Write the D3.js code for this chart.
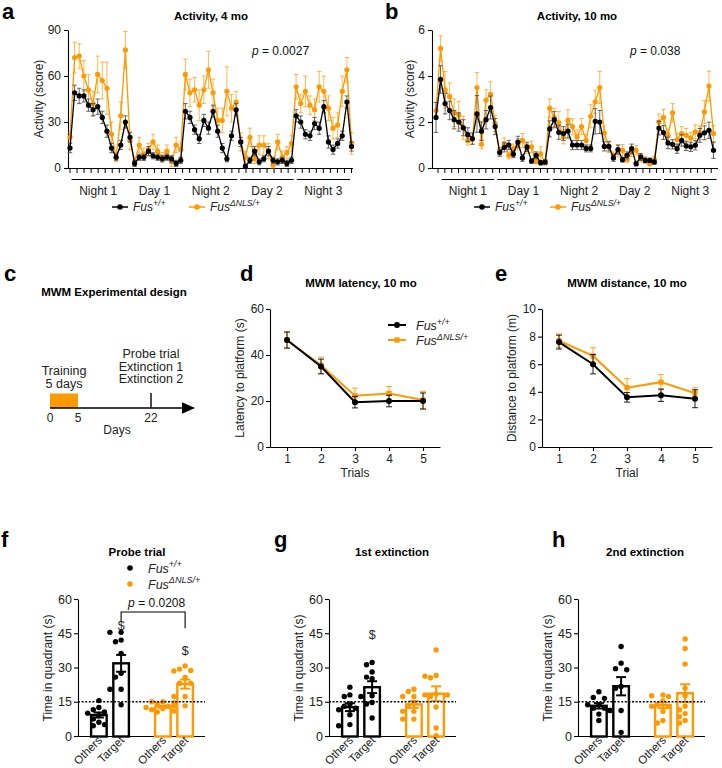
<!DOCTYPE html>
<html><head><meta charset="utf-8">
<script src="https://cdn.jsdelivr.net/npm/d3@7"></script>
<style>
body{margin:0;background:#fff}
text{font-family:"Liberation Sans",Arial,Helvetica,sans-serif}
</style>
</head><body>
<script>
// ---------------- DATA ----------------
const segments = ["Night 1","Day 1","Night 2","Day 2","Night 3"];
const genoBase = "Fus";
const genoSup = ["+/+", "\u0394NLS/+"];

// Panel a: activity at 4 months (hourly bins)
const act4WT = [13,49,47,47,41,38,40,33,24,13,7,15,30, 20,
  3,7,7,11,8,7,6,7,6,3,5,
  37,33,25,19,31,26,37,24,13,6,21,38,
  17,1,5,11,4,6,11,5,4,5,3,5,
  34,30,22,21,29,26,40,17,12,16,21,43,14];
const act4WTErr = [3,5,5,4,4,4,5,4,4,3,2,3,4, 3,
  2,2,2,3,2,2,2,2,2,2,2,
  5,4,3,3,4,4,4,4,3,2,3,4,
  3,1,2,3,2,2,3,2,2,2,2,2,
  4,4,3,3,4,4,4,4,3,3,3,4,3];
const act4KI = [20,72,73,60,51,42,61,57,52,22,7,34,77, 18,
  4,15,9,12,17,11,7,11,4,15,12,
  61,49,51,41,51,64,49,31,31,50,39,43,
  17,7,20,6,15,15,11,2,17,7,10,16,
  53,42,50,41,38,53,50,39,26,28,50,64,16];
const act4KIErr = [3,10,8,10,10,8,12,12,17,8,3,9,12, 6,
  3,5,4,4,5,4,3,4,3,5,5,
  10,9,8,10,9,12,9,8,8,16,9,7,
  6,4,6,3,6,6,5,2,5,4,4,5,
  8,6,10,6,7,10,10,8,7,8,10,8,7];

// Panel b: activity at 10 months
const act10WT = [2.2,3.85,2.8,2.5,2.1,2.0,1.75,1.45,1.28,2.35,1.6,2.1,2.63, 1.8,
  0.67,0.9,1.0,0.6,1.13,0.44,0.92,0.3,0.55,0.23,0.26,
  1.7,2.1,1.55,1.5,1.6,1.0,1.0,1.0,0.85,0.85,2.03,2.0,
  0.94,0.94,0.44,0.8,0.36,0.55,0.84,0.19,0.48,0.33,0.33,0.26,
  1.74,1.54,1.09,1.03,0.84,1.2,0.96,0.92,0.99,1.42,1.53,1.64,0.77];
const act10WTErr = [0.65,0.6,0.45,0.4,0.4,0.4,0.35,0.3,0.25,0.8,0.4,0.4,0.5, 0.35,
  0.15,0.2,0.2,0.15,0.25,0.15,0.2,0.1,0.15,0.1,0.1,
  0.35,0.35,0.3,0.3,0.3,0.2,0.2,0.2,0.15,0.15,0.55,0.5,
  0.2,0.2,0.15,0.2,0.1,0.15,0.2,0.1,0.15,0.1,0.1,0.1,
  0.3,0.3,0.25,0.2,0.2,0.25,0.2,0.2,0.2,0.3,0.3,0.35,0.35];
const act10KI = [2.5,5.2,3.4,3.1,2.4,2.3,1.75,1.2,1.24,3.5,1.03,2.95,3.2, 1.93,
  0.7,1.06,0.55,0.84,1.03,1.2,0.84,0.92,0.29,0.62,0.23,
  2.6,2.2,1.96,1.35,2.08,1.8,1.35,1.8,1.2,2.25,2.88,3.5,
  1.53,0.92,0.55,0.74,0.77,0.36,0.7,0.77,0.41,0.36,0.19,0.36,
  2.0,2.2,1.42,2.4,1.24,1.5,1.42,1.3,1.57,1.53,2.44,3.56,1.5];
const act10KIErr = [0.35,0.55,0.8,0.6,0.6,0.6,0.5,0.2,0.2,0.65,0.2,0.45,0.55, 0.35,
  0.2,0.25,0.15,0.2,0.25,0.3,0.2,0.25,0.1,0.3,0.1,
  0.4,0.4,0.5,0.3,0.45,0.35,0.3,0.35,0.25,0.5,0.5,0.7,
  0.3,0.25,0.15,0.25,0.25,0.1,0.2,0.2,0.15,0.15,0.1,0.15,
  0.35,0.35,0.25,0.4,0.25,0.3,0.3,0.25,0.3,0.3,0.5,0.65,0.35];

// Panel c: design timeline
const designDays = [0, 5, 22];
const trainingDays = [0, 5];
const probeDay = 22;
const probeLines = ["Probe trial","Extinction 1","Extinction 2"];
const trainingLines = ["Training","5 days"];

// Panels d, e
const trials = [1,2,3,4,5];
const latWT = [46.5,35,19.5,20,20];
const latWTErr = [3.5,3.2,2.5,2.5,3.5];
const latKI = [46.5,35.5,22.3,23.3,20.4];
const latKIErr = [3.5,3.5,3.3,3,3.8];
const distWT = [7.6,6.0,3.6,3.75,3.5];
const distWTErr = [0.5,0.7,0.35,0.45,0.65];
const distKI = [7.7,6.6,4.3,4.7,3.9];
const distKIErr = [0.5,0.6,0.65,0.55,0.4];

// Panels f, g, h: time in quadrant (s), individual animals
const quadrants = ["Others","Target"];
const probeWTOthers = [15.5,12.5,11.5,10.5,10,9,7.5,6,5,4.5];
const probeWTTarget = [45.4,45.4,41.3,42,36.2,27.5,25.8,20.5,20.5,13.7];
const probeKIOthers = [15,15,14.5,14,13,12.5,12,12,11.5,11,10.5];
const probeKITarget = [30.7,29.3,28.7,28.5,25.6,23.1,23.1,17.3,17.3,13.2,13.2];
const ext1WTOthers = [21.4,17.3,18,14,11.5,12.2,13,4.5,5,9.3];
const ext1WTTarget = [31.2,32.2,28,25.8,25.1,17.6,17.3,14.7,14,7.9];
const ext1KIOthers = [19.5,20.5,17.3,17.3,14.4,10.8,10.8,7.4,7.4,13];
const ext1KITarget = [37.7,26.5,26.2,25.5,18,18,18.4,12.7,3.5,0.1,17.3];
const ext2WTOthers = [19.4,16.5,16.9,13.7,13.7,12.2,12.2,11.2,9.6,6.8];
const ext2WTTarget = [39.2,31.9,29,29.5,21.7,20.9,11.2,11.2,1.6];
const ext2KIOthers = [18,17.6,17.3,15.4,13.7,13,10.8,6.8,5.7,13,17];
const ext2KITarget = [42.5,38.3,31.5,20.9,17.6,13,9.8,5.7,6.8,11.5,8.5];
const chanceLevel = 15;
const quadTicks = [0,15,30,45,60];

// ---------------- DRAWING ----------------
const ORANGE = "#ff9900";
const fmtInt = d3.format("d");
const svg = d3.select("body").append("svg").attr("width",722).attr("height",768);
svg.append("rect").attr("width",722).attr("height",768).attr("fill","#fff");

function styleAxis(g, fs) {
  g.select(".domain").attr("stroke","#000").attr("stroke-width",1.1);
  g.selectAll(".tick line").attr("stroke","#000").attr("stroke-width",1.1);
  g.selectAll(".tick text").attr("font-size",fs||12).attr("fill","#222")
    .attr("font-family",'"Liberation Sans",Arial,sans-serif');
}
function label(x, y, s, o) {
  o = o || {};
  return svg.append("text").attr("x",x).attr("y",y).text(s)
    .attr("font-size",o.size||12).attr("font-weight",o.bold?"bold":null)
    .attr("text-anchor",o.anchor||"start").attr("fill",o.fill||"#111")
    .attr("font-style",o.italic?"italic":null);
}
function ylabel(x, y, s) {
  svg.append("text").attr("transform",`translate(${x},${y}) rotate(-90)`)
    .attr("text-anchor","middle").attr("font-size",12).attr("fill","#222").text(s);
}
function genoText(x, y, idx, size) {
  const t = svg.append("text").attr("x",x).attr("y",y).attr("font-size",size)
    .attr("font-style","italic").attr("fill","#222");
  t.append("tspan").text(genoBase);
  t.append("tspan").attr("dy",-size*0.42).attr("font-size",size*0.72).text(genoSup[idx]);
}
function pText(x, y, val) {
  const t = svg.append("text").attr("x",x).attr("y",y).attr("font-size",12).attr("fill","#111");
  t.append("tspan").attr("font-style","italic").text("p");
  t.append("tspan").text(" = " + val);
}

// ---- Activity panels ----
function activityPanel(o) {
  const n = o.wt.length;
  const x = d3.scaleLinear().domain([0, n-1]).range([o.px0, o.px1]);
  const y = d3.scaleLinear().domain([0, o.yMax]).range([168, 30]);
  const g = svg.append("g");
  const ya = g.append("g").attr("transform",`translate(${o.ax0},0)`)
    .call(d3.axisLeft(y).tickValues(o.yTicks).tickFormat(fmtInt).tickSize(4).tickSizeOuter(0).tickPadding(3));
  styleAxis(ya, 12);
  g.append("line").attr("x1",o.ax0).attr("x2",o.ax1).attr("y1",168.5).attr("y2",168.5)
    .attr("stroke","#000").attr("stroke-width",1.1);
  const nt = 41;
  const tickVals = d3.range(nt).map(k => o.tickStart + k*(o.tickEnd-o.tickStart)/(nt-1));
  g.selectAll(".xt").data(tickVals).join("line")
    .attr("x1",d=>x(d)).attr("x2",d=>x(d)).attr("y1",168.5).attr("y2",173)
    .attr("stroke","#000").attr("stroke-width",1);
  const segLen = (o.segEnd - o.segStart)/segments.length;
  segments.forEach((s,i) => {
    const a = x(o.segStart + i*segLen)+1.5, b = x(o.segStart+(i+1)*segLen)-1.5;
    g.append("line").attr("x1",a).attr("x2",b).attr("y1",179.5).attr("y2",179.5)
      .attr("stroke","#000").attr("stroke-width",1);
    g.append("text").attr("x",(a+b)/2).attr("y",195).attr("text-anchor","middle")
      .attr("font-size",12).attr("fill","#222").text(s);
  });
  function series(vals, errs, col, errCol, errOp) {
    const gg = g.append("g");
    vals.forEach((v,i) => {
      const cx = x(i);
      gg.append("line").attr("x1",cx).attr("x2",cx).attr("y1",y(v-errs[i])).attr("y2",y(v+errs[i]))
        .attr("stroke",errCol).attr("stroke-opacity",errOp).attr("stroke-width",1);
      [v-errs[i], v+errs[i]].forEach(e => gg.append("line").attr("x1",cx-2.2).attr("x2",cx+2.2)
        .attr("y1",y(e)).attr("y2",y(e)).attr("stroke",errCol).attr("stroke-opacity",errOp).attr("stroke-width",1));
    });
    gg.append("path").datum(vals).attr("fill","none").attr("stroke",col).attr("stroke-width",1.3)
      .attr("d", d3.line().x((d,i)=>x(i)).y(d=>y(d)));
    gg.selectAll("circle").data(vals).join("circle").attr("cx",(d,i)=>x(i)).attr("cy",d=>y(d))
      .attr("r",2.6).attr("fill",col);
  }
  series(o.ki, o.kiErr, ORANGE, ORANGE, 0.7);
  series(o.wt, o.wtErr, "#000", "#555", 0.9);
  label(o.letterX, 19, o.letter, {size:22, bold:true, fill:"#000"});
  label(o.titleX, 20, o.title, {size:11.5, bold:true, anchor:"middle", fill:"#000"});
  pText(o.pX, 55, o.p);
  ylabel(o.ylabX, 99, "Activity (score)");
  // legend
  const ly = 207;
  [[o.legX[0], "#000", 0], [o.legX[1], ORANGE, 1]].forEach(([lx, c, idx]) => {
    svg.append("line").attr("x1",lx).attr("x2",lx+16).attr("y1",ly).attr("y2",ly).attr("stroke",c).attr("stroke-width",1.5);
    svg.append("circle").attr("cx",lx+8).attr("cy",ly).attr("r",2.8).attr("fill",c);
    genoText(lx+21, ly+4, idx, 12);
  });
}

activityPanel({wt:act4WT, wtErr:act4WTErr, ki:act4KI, kiErr:act4KIErr, yMax:90, yTicks:[0,30,60,90],
  px0:70, px1:351.5, ax0:68, ax1:353, tickStart:0, tickEnd:61, segStart:0, segEnd:61,
  letter:"a", letterX:2, title:"Activity, 4 mo", titleX:211, p:"0.0027", pX:252, ylabX:43, legX:[112,189]});
activityPanel({wt:act10WT, wtErr:act10WTErr, ki:act10KI, kiErr:act10KIErr, yMax:6, yTicks:[0,2,4,6],
  px0:436, px1:713.5, ax0:432, ax1:718, tickStart:0.45, tickEnd:60.5, segStart:0.9, segEnd:62,
  letter:"b", letterX:385, title:"Activity, 10 mo", titleX:577, p:"0.038", pX:630, ylabX:414, legX:[474,550]});

// ---- Panel c ----
(function(){
  const x = d3.scaleLinear().domain(designDays).range([50, 78, 151]);
  label(4, 281, "c", {size:22, bold:true, fill:"#000"});
  label(114, 296, "MWM Experimental design", {size:11.5, bold:true, anchor:"middle", fill:"#000"});
  svg.append("rect").attr("x",x(trainingDays[0])).attr("y",393.5)
    .attr("width",x(trainingDays[1])-x(trainingDays[0])).attr("height",14.5).attr("fill",ORANGE);
  svg.append("line").attr("x1",x(0)).attr("x2",185).attr("y1",408).attr("y2",408).attr("stroke","#000").attr("stroke-width",1.6);
  svg.append("path").attr("d","M182,402.2 L195,408 L182,413.8 Z").attr("fill","#000");
  svg.append("line").attr("x1",x(probeDay)).attr("x2",x(probeDay)).attr("y1",393).attr("y2",408).attr("stroke","#000").attr("stroke-width",1.4);
  designDays.forEach(d => label(x(d), 422, String(d), {size:12, anchor:"middle", fill:"#222"}));
  label(117, 434, "Days", {size:12, anchor:"middle", fill:"#222"});
  trainingLines.forEach((s,i) => label(64, 375+i*12.7, s, {size:12.5, anchor:"middle", fill:"#222"}));
  probeLines.forEach((s,i) => label(x(probeDay), 358+i*12.7, s, {size:12.5, anchor:"middle", fill:"#222"}));
})();

// ---- Panels d, e ----
function mwmPanel(o) {
  const x = d3.scaleLinear().domain([0.5,5.5]).range([o.ax0, o.ax1]);
  const y = d3.scaleLinear().domain([0, o.yMax]).range([447, 309]);
  const g = svg.append("g");
  const ya = g.append("g").attr("transform",`translate(${o.ax0},0)`)
    .call(d3.axisLeft(y).tickValues(o.yTicks).tickFormat(fmtInt).tickSize(4).tickSizeOuter(0).tickPadding(2));
  styleAxis(ya, 12);
  const xa = g.append("g").attr("transform","translate(0,447)")
    .call(d3.axisBottom(x).tickValues(trials).tickFormat(fmtInt).tickSize(4).tickSizeOuter(0).tickPadding(3));
  styleAxis(xa, 12);
  function series(vals, errs, col, square) {
    const gg = g.append("g");
    vals.forEach((v,i) => {
      const cx = x(trials[i]);
      gg.append("line").attr("x1",cx).attr("x2",cx).attr("y1",y(v-errs[i])).attr("y2",y(v+errs[i]))
        .attr("stroke",col).attr("stroke-opacity",0.8).attr("stroke-width",1.1);
      [v-errs[i], v+errs[i]].forEach(e => gg.append("line").attr("x1",cx-3).attr("x2",cx+3)
        .attr("y1",y(e)).attr("y2",y(e)).attr("stroke",col).attr("stroke-opacity",0.8).attr("stroke-width",1.1));
    });
    gg.append("path").datum(vals).attr("fill","none").attr("stroke",col).attr("stroke-width",2)
      .attr("d", d3.line().x((d,i)=>x(trials[i])).y(d=>y(d)));
    if (square) gg.selectAll("rect").data(vals).join("rect").attr("x",(d,i)=>x(trials[i])-2.6)
      .attr("y",d=>y(d)-2.6).attr("width",5.2).attr("height",5.2).attr("fill",col);
    else gg.selectAll("circle").data(vals).join("circle").attr("cx",(d,i)=>x(trials[i])).attr("cy",d=>y(d))
      .attr("r",3).attr("fill",col);
  }
  series(o.ki, o.kiErr, ORANGE, true);
  series(o.wt, o.wtErr, "#000", false);
  label(o.letterX, 281, o.letter, {size:22, bold:true, fill:"#000"});
  label((o.ax0+o.ax1)/2+ (o.titleDx||0), 287, o.title, {size:11.5, bold:true, anchor:"middle", fill:"#000"});
  label(x(3), 477, o.xlab, {size:12, anchor:"middle", fill:"#222"});
  ylabel(o.ylabX, 378, o.ylab);
  if (o.legend) {
    [[325,"#000",0],[340,ORANGE,1]].forEach(([ly,c,idx]) => {
      svg.append("line").attr("x1",388).attr("x2",406).attr("y1",ly).attr("y2",ly).attr("stroke",c).attr("stroke-width",2);
      if (idx===0) svg.append("circle").attr("cx",397).attr("cy",ly).attr("r",3).attr("fill",c);
      else svg.append("rect").attr("x",394.4).attr("y",ly-2.6).attr("width",5.2).attr("height",5.2).attr("fill",c);
      genoText(416, ly+5, idx, 12.5);
    });
  }
}
mwmPanel({wt:latWT, wtErr:latWTErr, ki:latKI, kiErr:latKIErr, yMax:60, yTicks:[0,20,40,60],
  ax0:270, ax1:440, letter:"d", letterX:240, title:"MWM latency, 10 mo", titleDx:6, xlab:"Trials",
  ylab:"Latency to platform (s)", ylabX:244, legend:true});
mwmPanel({wt:distWT, wtErr:distWTErr, ki:distKI, kiErr:distKIErr, yMax:10, yTicks:[0,2,4,6,8,10],
  ax0:542, ax1:712, letter:"e", letterX:495, title:"MWM distance, 10 mo", titleDx:0, xlab:"Trial",
  ylab:"Distance to platform (m)", ylabX:516, legend:false});

// ---- Panels f, g, h ----
function swarm(values, cx, y, r, step) {
  const sorted = values.slice().sort((a,b)=>b-a);
  const placed = [];
  const offs = [0,-1,1,-2,2,-3,3];
  sorted.forEach(v => {
    const py = y(v);
    for (const k of offs) {
      const px = cx + k*step;
      if (placed.every(p => Math.hypot(p.x-px, p.y-py) >= 2*r+0.6)) { placed.push({x:px,y:py}); return; }
    }
    placed.push({x:cx,y:py});
  });
  return placed;
}
function quadPanel(o) {
  const y = d3.scaleLinear().domain([0,60]).range([736,599]);
  const g = svg.append("g");
  const ya = g.append("g").attr("transform",`translate(${o.ax0},0)`)
    .call(d3.axisLeft(y).tickValues(quadTicks).tickFormat(fmtInt).tickSize(4).tickSizeOuter(0).tickPadding(2));
  styleAxis(ya, 12.5);
  g.append("line").attr("x1",o.ax0).attr("x2",o.ax0+127).attr("y1",736.5).attr("y2",736.5)
    .attr("stroke","#000").attr("stroke-width",1.1);
  const x0 = d3.scaleBand().domain([0,1]).range([o.ax0+12, o.ax0+116]).paddingInner(0.375);
  const x1 = d3.scaleBand().domain(quadrants).range([0, x0.bandwidth()]).paddingInner(0.2);
  const groups = [[o.wtO, o.wtT],[o.kiO, o.kiT]];
  const cols = ["#000", ORANGE];
  const centers = [];
  groups.forEach((pair, gi) => pair.forEach((vals, qi) => {
    const bx = x0(gi) + x1(quadrants[qi]);
    const bw = x1.bandwidth();
    const cx = bx + bw/2;
    centers.push(cx);
    const m = d3.mean(vals), sem = d3.deviation(vals)/Math.sqrt(vals.length);
    g.append("rect").attr("x",bx+1.1).attr("y",y(m)).attr("width",bw-2.2).attr("height",y(0)-y(m)+0.5)
      .attr("fill","#fff").attr("stroke",cols[gi]).attr("stroke-width",2.4);
    g.append("line").attr("x1",cx).attr("x2",cx).attr("y1",y(m-sem)).attr("y2",y(m+sem))
      .attr("stroke",cols[gi]).attr("stroke-width",2);
    [m-sem, m+sem].forEach(e => g.append("line").attr("x1",cx-5).attr("x2",cx+5).attr("y1",y(e)).attr("y2",y(e))
      .attr("stroke",cols[gi]).attr("stroke-width",2));
    swarm(vals, cx, y, 2.6, 5.6).forEach(p => g.append("circle").attr("cx",p.x).attr("cy",p.y)
      .attr("r",2.7).attr("fill",cols[gi]));
    g.append("text").attr("transform",`translate(${cx+4},${741}) rotate(-45)`).attr("text-anchor","end")
      .attr("font-size",11.5).attr("fill","#222").text(quadrants[qi]);
  }));
  g.append("line").attr("x1",o.ax0).attr("x2",o.ax0+127).attr("y1",y(chanceLevel)).attr("y2",y(chanceLevel))
    .attr("stroke","#000").attr("stroke-width",1.6).attr("stroke-dasharray","2,1.6");
  label(o.letterX, 547, o.letter, {size:22, bold:true, fill:"#000"});
  label(o.titleX, 556, o.title, {size:11.5, bold:true, anchor:"middle", fill:"#000"});
  ylabel(o.ax0-26, 668, "Time in quadrant (s)");
  return {centers, y};
}
const pf = quadPanel({ax0:78, wtO:probeWTOthers, wtT:probeWTTarget, kiO:probeKIOthers, kiT:probeKITarget,
  letter:"f", letterX:1, title:"Probe trial", titleX:137});
const pg = quadPanel({ax0:329, wtO:ext1WTOthers, wtT:ext1WTTarget, kiO:ext1KIOthers, kiT:ext1KITarget,
  letter:"g", letterX:274, title:"1st extinction", titleX:392});
const ph = quadPanel({ax0:578, wtO:ext2WTOthers, wtT:ext2WTTarget, kiO:ext2KIOthers, kiT:ext2KITarget,
  letter:"h", letterX:552, title:"2nd extinction", titleX:645});

// f annotations
(function(){
  const c1 = pf.centers[1], c3 = pf.centers[3], y = pf.y;
  svg.append("path").attr("d",`M${c1},${y(50)} V${y(54.3)} H${c3} V${y(47.2)}`)
    .attr("fill","none").attr("stroke","#000").attr("stroke-width",1.1);
  pText((c1+c3)/2 - 25, 607, "0.0208");
  label(c1, 630, "$", {size:12.5, anchor:"middle", fill:"#222"});
  label(c3, 655, "$", {size:12.5, anchor:"middle", fill:"#222"});
  label(pg.centers[1], 639, "$", {size:12.5, anchor:"middle", fill:"#222"});
  // legend
  [[568,"#000",0],[584,ORANGE,1]].forEach(([ly,c,idx]) => {
    svg.append("circle").attr("cx",130).attr("cy",ly).attr("r",2.8).attr("fill",c);
    genoText(148, ly+4.5, idx, 12.5);
  });
})();
</script>
</body></html>
